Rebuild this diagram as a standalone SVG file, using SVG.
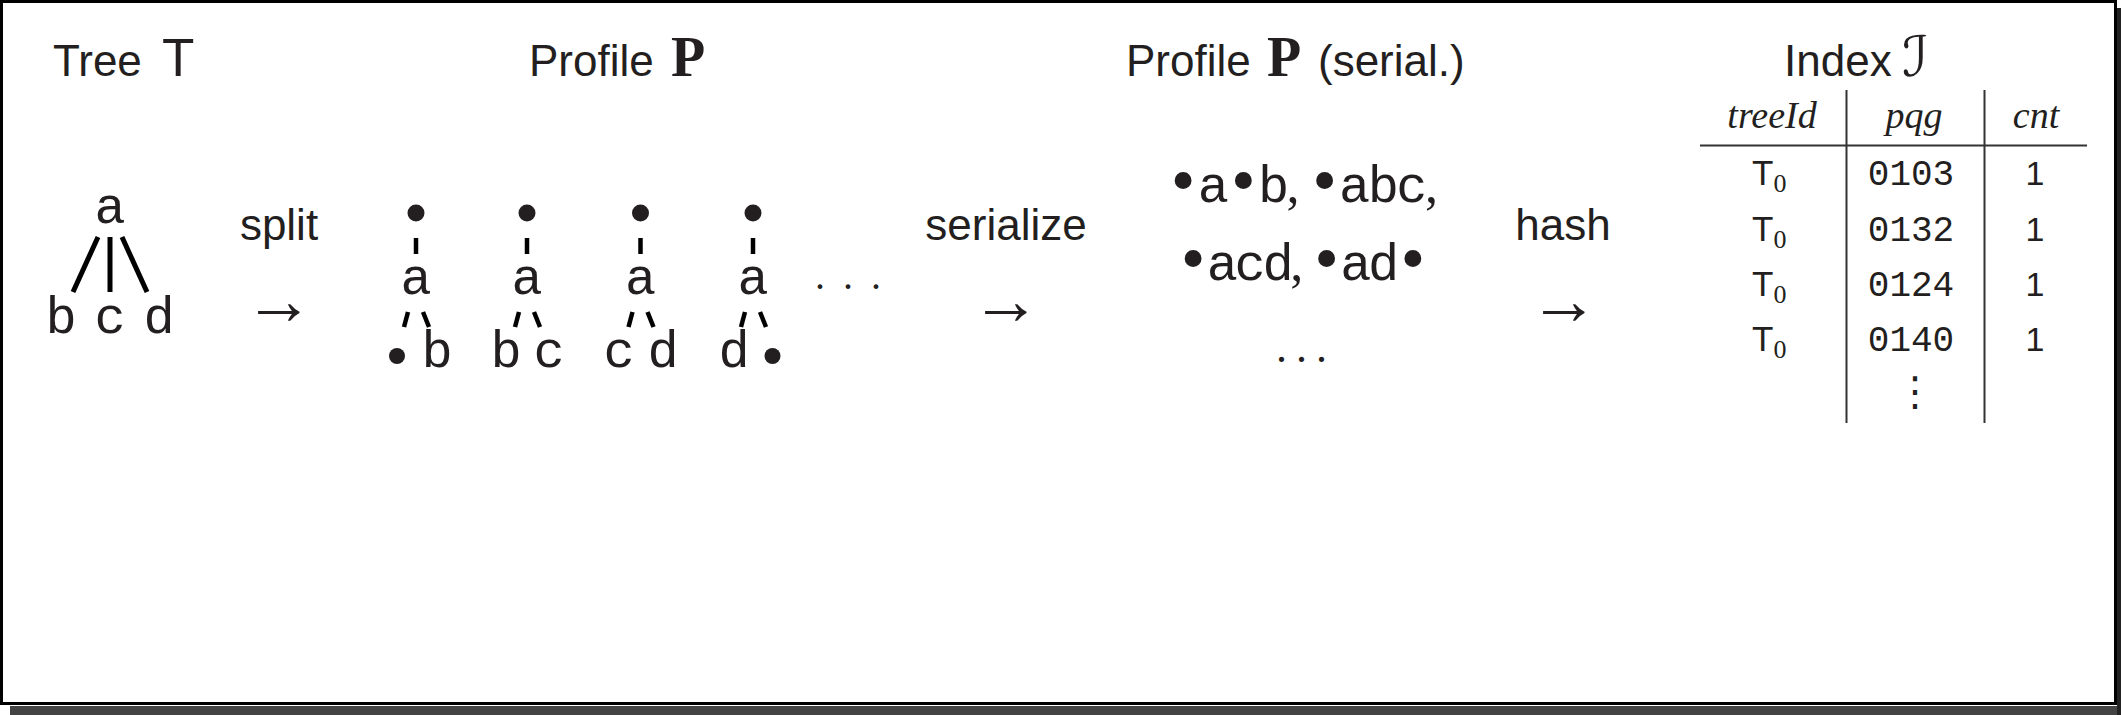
<svg xmlns="http://www.w3.org/2000/svg" width="2121" height="715" viewBox="0 0 2121 715">
<style>
.ink{fill:#231f20}
.sans{font-family:"Liberation Sans",Arial,sans-serif;fill:#231f20}
.title{font-size:44px}
.tt{font-family:"Liberation Mono","Courier New",monospace;font-size:52px;fill:#231f20}
.rm{font-family:"Liberation Serif","Times New Roman",serif;fill:#231f20}
.it{font-family:"Liberation Serif","Times New Roman",serif;font-style:italic;fill:#231f20;font-size:38px}
.bf{font-family:"Liberation Serif","Times New Roman",serif;font-weight:bold;font-size:56px;fill:#231f20}
.arrow{font-family:"Liberation Serif","DejaVu Serif",serif;font-size:70px;fill:#231f20}
.bul{font-family:"DejaVu Sans",sans-serif;font-size:58px}
.edge{stroke:#000;stroke-width:5;fill:none}
.dash{stroke:#000;stroke-width:4.5;fill:none}
.rule{stroke:#333;stroke-width:2;fill:none}
.dot{fill:#231f20}
.num{font-family:"Liberation Mono","Courier New",monospace;font-size:36px;fill:#231f20}
.one{font-family:"Liberation Sans",Arial,sans-serif;font-size:34px;fill:#231f20}
</style>
<rect x="10" y="706" width="2111" height="9" fill="#444"/>
<rect x="2117" y="8" width="4" height="707" fill="#222"/>
<rect x="1.5" y="1.5" width="2114" height="702" fill="#fff" stroke="#000" stroke-width="3"/>

<g id="titles">
<text class="sans title" x="53" y="76">Tree <tspan font-size="53" x="162">T</tspan></text>
<text class="sans title" x="529" y="76">Profile</text>
<text class="bf" x="671" y="76">P</text>
<text class="sans title" x="1126" y="76">Profile</text>
<text class="bf" x="1267" y="76">P</text>
<text class="sans title" x="1318" y="76">(serial.)</text>
<text class="sans title" x="1784" y="76">Index</text>
<text x="1902" y="76" font-family="DejaVu Sans,sans-serif" font-size="56" class="ink">ℐ</text>
</g>

<g id="tree-T">
<text class="tt" x="110" y="223" text-anchor="middle">a</text>
<line class="edge" x1="98" y1="237" x2="73" y2="292"/>
<line class="edge" x1="110" y1="237" x2="110" y2="292"/>
<line class="edge" x1="122" y1="237" x2="147" y2="292"/>
<text class="tt" x="61" y="333" text-anchor="middle">b</text>
<text class="tt" x="110" y="333" text-anchor="middle">c</text>
<text class="tt" x="159" y="333" text-anchor="middle">d</text>
</g>

<g id="step-split">
<text class="sans title" x="279" y="240" text-anchor="middle">split</text>
<text class="arrow" x="279" y="324" text-anchor="middle">→</text>
</g>

<g id="profile-1">
<circle class="dot" cx="416" cy="213" r="8.5"/>
<line class="dash" x1="416" y1="238" x2="416" y2="254"/>
<text class="tt" x="416" y="294" text-anchor="middle">a</text>
<line class="dash" x1="408" y1="312" x2="404" y2="327"/>
<line class="dash" x1="423" y1="312" x2="429" y2="327"/>
<circle class="dot" cx="397" cy="356" r="8"/>
<text class="tt" x="437" y="367" text-anchor="middle">b</text>
</g>
<g id="profile-2">
<circle class="dot" cx="527" cy="213" r="8.5"/>
<line class="dash" x1="527" y1="238" x2="527" y2="254"/>
<text class="tt" x="527" y="294" text-anchor="middle">a</text>
<line class="dash" x1="519" y1="312" x2="515" y2="327"/>
<line class="dash" x1="534" y1="312" x2="540" y2="327"/>
<text class="tt" x="506" y="367" text-anchor="middle">b</text>
<text class="tt" x="549" y="367" text-anchor="middle">c</text>
</g>
<g id="profile-3">
<circle class="dot" cx="640.5" cy="213" r="8.5"/>
<line class="dash" x1="640.5" y1="238" x2="640.5" y2="254"/>
<text class="tt" x="640.5" y="294" text-anchor="middle">a</text>
<line class="dash" x1="632.5" y1="312" x2="628.5" y2="327"/>
<line class="dash" x1="647.5" y1="312" x2="653.5" y2="327"/>
<text class="tt" x="619" y="367" text-anchor="middle">c</text>
<text class="tt" x="663" y="367" text-anchor="middle">d</text>
</g>
<g id="profile-4">
<circle class="dot" cx="753" cy="213" r="8.5"/>
<line class="dash" x1="753" y1="238" x2="753" y2="254"/>
<text class="tt" x="753" y="294" text-anchor="middle">a</text>
<line class="dash" x1="745" y1="312" x2="741" y2="327"/>
<line class="dash" x1="760" y1="312" x2="766" y2="327"/>
<text class="tt" x="734" y="367" text-anchor="middle">d</text>
<circle class="dot" cx="772.5" cy="356" r="8"/>
</g>
<g id="profile-more">
<text class="rm" x="815" y="289" font-size="40" letter-spacing="18">...</text>
</g>

<g id="step-serialize">
<text class="sans title" x="1006" y="240" text-anchor="middle">serialize</text>
<text class="arrow" x="1006" y="324" text-anchor="middle">→</text>
</g>

<g id="serialized">
<text x="1166" y="202" class="rm" font-size="52" textLength="272" lengthAdjust="spacing"><tspan class="bul">•</tspan><tspan class="tt">a</tspan><tspan class="bul">•</tspan><tspan class="tt">b</tspan>, <tspan class="bul">•</tspan><tspan class="tt">abc</tspan>,</text>
<text x="1176" y="280" class="rm" font-size="52" textLength="254" lengthAdjust="spacing"><tspan class="bul">•</tspan><tspan class="tt">acd</tspan>, <tspan class="bul">•</tspan><tspan class="tt">ad</tspan><tspan class="bul">•</tspan></text>
<text class="rm" x="1276" y="362" font-size="44" letter-spacing="9">...</text>
</g>

<g id="step-hash">
<text class="sans title" x="1563" y="240" text-anchor="middle">hash</text>
<text class="arrow" x="1564" y="324" text-anchor="middle">→</text>
</g>

<g id="index-table">
<line class="rule" x1="1846.5" y1="90" x2="1846.5" y2="423"/>
<line class="rule" x1="1984.5" y1="90" x2="1984.5" y2="423"/>
<line class="rule" x1="1700" y1="145.5" x2="2087" y2="145.5"/>
<text class="it" x="1772" y="128" text-anchor="middle">treeId</text>
<text class="it" x="1914" y="128" text-anchor="middle">pqg</text>
<text class="it" x="2036" y="128" text-anchor="middle">cnt</text>
<g class="sans" font-size="35">
<text x="1752" y="185">T<tspan class="rm" font-size="26" dy="7">0</tspan></text>
<text x="1752" y="241">T<tspan class="rm" font-size="26" dy="7">0</tspan></text>
<text x="1752" y="296">T<tspan class="rm" font-size="26" dy="7">0</tspan></text>
<text x="1752" y="351">T<tspan class="rm" font-size="26" dy="7">0</tspan></text>
</g>
<text class="num" x="1911" y="185" text-anchor="middle">0103</text>
<text class="num" x="1911" y="241" text-anchor="middle">0132</text>
<text class="num" x="1911" y="296" text-anchor="middle">0124</text>
<text class="num" x="1911" y="351" text-anchor="middle">0140</text>
<text class="one" x="2035" y="185" text-anchor="middle">1</text>
<text class="one" x="2035" y="241" text-anchor="middle">1</text>
<text class="one" x="2035" y="296" text-anchor="middle">1</text>
<text class="one" x="2035" y="351" text-anchor="middle">1</text>
<text x="1915" y="405" font-family="DejaVu Sans,sans-serif" font-size="40" text-anchor="middle" class="ink">⋮</text>
</g>
</svg>
